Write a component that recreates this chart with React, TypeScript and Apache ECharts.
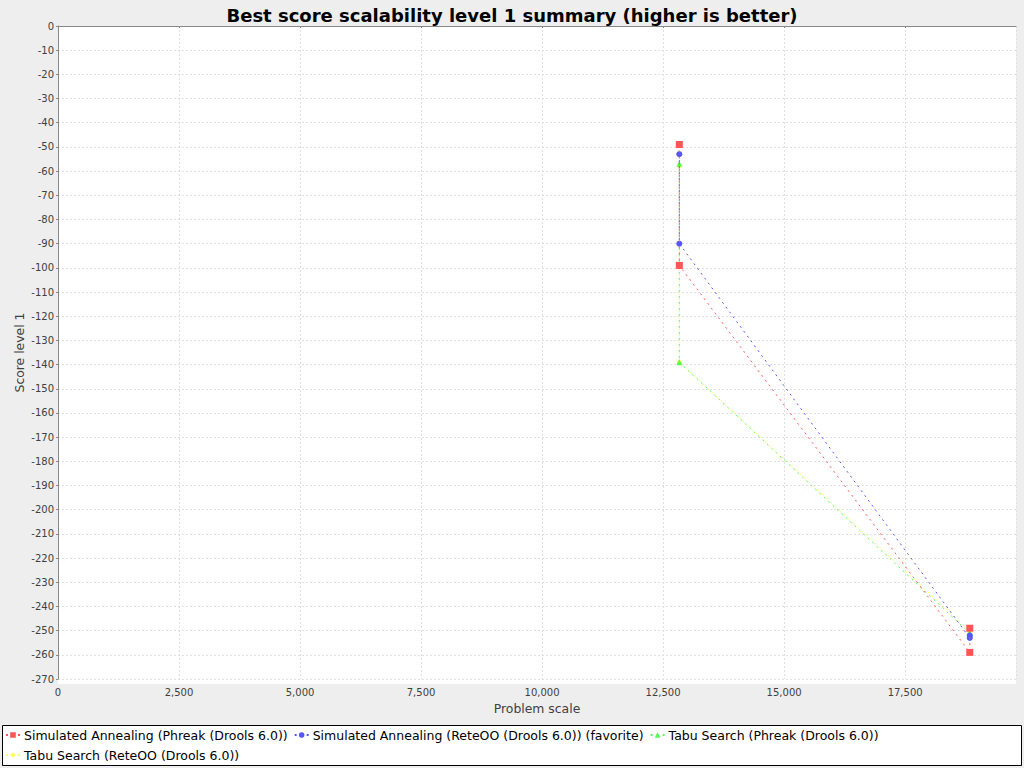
import React, { useEffect, useRef } from "react";
import * as echarts from "echarts";

const problemScales = [12835, 12835, 18835, 18835];
const saPhreak = [-49, -99, -259, -249];
const saReteoo = [-53, -90, -253, -252];
const tabuPhreak = [-57, -139, -251, -252];
const tabuReteoo = [-58, -139, -250, -251];

const seriesNames = [
  "Simulated Annealing (Phreak (Drools 6.0))",
  "Simulated Annealing (ReteOO (Drools 6.0)) (favorite)",
  "Tabu Search (Phreak (Drools 6.0))",
  "Tabu Search (ReteOO (Drools 6.0))",
];
const seriesValues = [saPhreak, saReteoo, tabuPhreak, tabuReteoo];
const seriesColors = ["#FF5555", "#5555FF", "#55FF55", "#FFFF55"];
const seriesSymbols = ["rect", "circle", "triangle", "diamond"];

const FONT = "DejaVu Sans";

export default function App() {
  const ref = useRef<HTMLDivElement>(null);
  useEffect(() => {
    document.body.style.margin = "0";
    const chart = echarts.init(ref.current!, null, { renderer: "svg" });
    const fmt = (v: number) => {
      if (Math.abs(v % 2500) > 1e-6) return "";
      return v.toLocaleString("en-US");
    };
    chart.setOption({
      animation: false,
      backgroundColor: "#EEEEEE",
      textStyle: { fontFamily: FONT },
      title: {
        text: "Best score scalability level 1 summary (higher is better)",
        left: "center",
        top: 1,
        textStyle: { fontFamily: FONT, fontSize: 18, fontWeight: "bold", color: "#000" },
      },
      graphic: [
        {
          type: "rect",
          z: -10,
          silent: true,
          shape: { x: 58, y: 26, width: 958, height: 658 },
          style: { fill: "#FFFFFF" },
        },
        {
          type: "rect",
          z: -10,
          silent: true,
          shape: { x: 2.5, y: 725.5, width: 1019, height: 40 },
          style: { fill: "#FFFFFF", stroke: "#000000", lineWidth: 1 },
        },
      ],
      grid: { left: 58, right: 8, top: 26, bottom: 89, containLabel: false },
      legend: {
        left: 5,
        top: 728,
        width: 1010,
        padding: 0,
        itemGap: 6,
        itemWidth: 14,
        itemHeight: 7,
        textStyle: {
          fontFamily: FONT,
          fontSize: 12.5,
          lineHeight: 14,
          color: "#000",
          padding: [0, 0, 0, -1],
        },
        data: seriesNames,
      },
      xAxis: {
        type: "value",
        min: 0,
        max: 19790,
        interval: 2500,
        offset: 5,
        name: "Problem scale",
        nameLocation: "middle",
        nameGap: 18,
        nameMoveOverlap: false,
        nameTextStyle: { fontFamily: FONT, fontSize: 12.4, color: "#404040" },
        axisLine: { show: true, lineStyle: { color: "#888888", width: 1 } },
        axisTick: { show: true, length: 2, lineStyle: { color: "#888888" } },
        axisLabel: {
          fontFamily: FONT,
          fontSize: 10,
          color: "#404040",
          margin: 3,
          formatter: fmt,
          showMaxLabel: false,
        },
        splitLine: { show: true, lineStyle: { color: "#E0E0E0", type: [2, 2], width: 1 } },
      },
      yAxis: {
        type: "value",
        min: -270,
        max: 0,
        interval: 10,
        name: "Score level 1",
        nameLocation: "middle",
        nameGap: 33,
        nameMoveOverlap: false,
        nameTextStyle: { fontFamily: FONT, fontSize: 12.4, color: "#404040" },
        axisLine: { show: true, lineStyle: { color: "#888888", width: 1 } },
        axisTick: { show: true, length: 2, lineStyle: { color: "#888888" } },
        axisLabel: { fontFamily: FONT, fontSize: 10, color: "#404040", margin: 4 },
        splitLine: { show: true, lineStyle: { color: "#E0E0E0", type: [2, 2], width: 1 } },
      },
      series: seriesNames.map((name, i) => ({
        name,
        type: "line",
        z: 10 - i,
        data: problemScales.map((x, j) => [x, seriesValues[i][j]]),
        symbol: seriesSymbols[i],
        symbolSize: i === 0 ? 7 : 6,
        showAllSymbol: true,
        itemStyle: { color: seriesColors[i] },
        lineStyle: { color: seriesColors[i], width: 1, type: [2, 4] },
        emphasis: { disabled: true },
      })),
    });
    return () => chart.dispose();
  }, []);
  return <div ref={ref} style={{ width: 1024, height: 768 }} />;
}
